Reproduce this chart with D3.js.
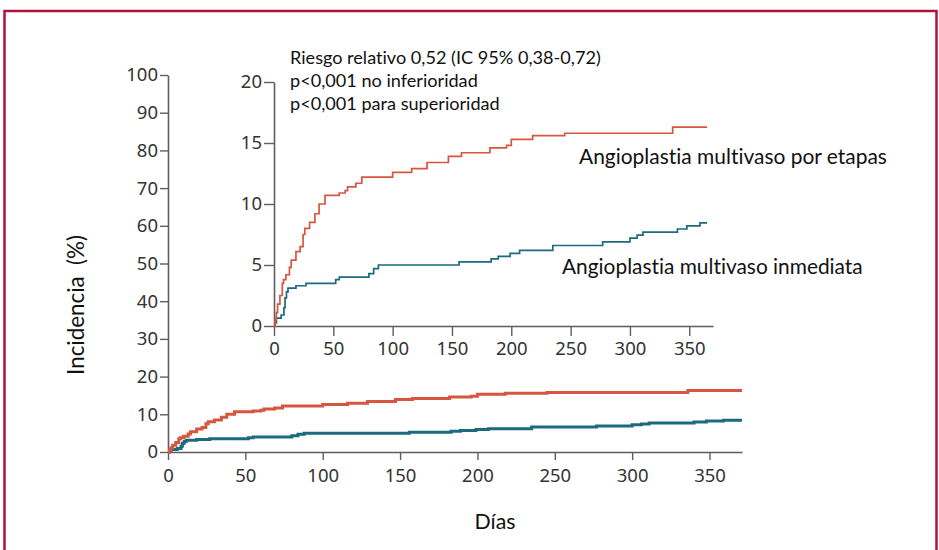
<!DOCTYPE html>
<html><head><meta charset="utf-8">
<script src="https://cdn.jsdelivr.net/npm/d3@7"></script>
<style>html,body{margin:0;padding:0;background:#fff;}svg{display:block;}text{font-variant-ligatures:none;font-feature-settings:"liga" 0,"clig" 0;}</style>
</head><body>
<svg id="c" width="939" height="550"></svg>
<script>
// ---- data ----
const redDays   = [0,1,2,3,5,7,8,10,13,14.5,18.5,22,24.5,26,30,34.5,38,43,55,60,62,69,74,100,116,129,147,158,182,196,200,218,245,336,365];
const redVals   = [0,0.5,1.1,1.8,2.5,3.5,3.8,4.2,4.8,5.4,6.1,6.5,7.5,8.0,8.5,9.2,10.0,10.7,10.9,11.1,11.4,11.7,12.2,12.6,12.9,13.4,13.9,14.2,14.6,14.8,15.3,15.6,15.8,16.3,16.3];
const blueDays  = [0,1,2,6,8.4,9.3,10.5,11.8,18.5,27,52,55,80,84,88,156,183,189,199,207,235,277,300,306,311,340,348,359,365];
const blueVals  = [0,0.25,0.65,0.9,1.5,2.3,2.8,3.1,3.3,3.5,3.8,4.0,4.3,4.7,5.0,5.25,5.5,5.7,5.95,6.2,6.6,6.9,7.2,7.45,7.7,7.95,8.2,8.45,8.45];
const xTicks     = [0,50,100,150,200,250,300,350];
const mainYTicks = [0,10,20,30,40,50,60,70,80,90,100];
const insetYTicks= [0,5,10,15,20];
const statsLines = ["Riesgo relativo 0,52 (IC 95% 0,38-0,72)","p<0,001 no inferioridad","p<0,001 para superioridad"];
const seriesLabels = ["Angioplastia multivaso por etapas","Angioplastia multivaso inmediata"];
const yTitle = "Incidencia  (%)";
const xTitle = "Días";

const RED = "#d6563f", TEAL = "#1c6a7e", AX = "#5e5e5e", TXT = "#333";
const svg = d3.select("#c");

// frame
svg.append("rect").attr("x",4.5).attr("y",11).attr("width",932).attr("height",560)
  .attr("fill","none").attr("stroke","#b3123f").attr("stroke-width",2.5);

const red  = redDays.map((d,i)=>[d,redVals[i]]);
const blue = blueDays.map((d,i)=>[d,blueVals[i]]);

function panel(opts){
  const x = d3.scaleLinear().domain([0,opts.xmax]).range([opts.x0,opts.x1]);
  const y = d3.scaleLinear().domain([0,opts.ymax]).range([opts.y0,opts.y1]);
  const g = svg.append("g");
  const xa = g.append("g").attr("transform",`translate(0,${opts.y0})`)
    .call(d3.axisBottom(x).tickValues(xTicks).tickSize(opts.tick).tickSizeOuter(0).tickPadding(opts.pad));
  const ya = g.append("g").attr("transform",`translate(${opts.x0},0)`)
    .call(d3.axisLeft(y).tickValues(opts.yTicks).tickSize(opts.tick).tickSizeOuter(0).tickPadding(2));
  [xa,ya].forEach(a=>{
    a.selectAll("path.domain").attr("stroke",AX).attr("stroke-width",1.6);
    a.selectAll(".tick line").attr("stroke",AX).attr("stroke-width",1.4);
    a.selectAll(".tick text").attr("fill",TXT).style("font-family","Noto Sans, sans-serif").style("font-size",opts.fs+"px");
  });
  const line = d3.line().x(d=>x(d[0])).y(d=>y(d[1])).curve(d3.curveStepAfter);
  [[blue,TEAL],[red,RED]].forEach(([data,col])=>{
    const pts = data.slice();
    if(opts.extend) pts.push([opts.xmax, pts[pts.length-1][1]]);
    g.append("path").datum(pts).attr("d",line).attr("fill","none").attr("stroke",col).attr("stroke-width",opts.lw);
  });
  return {x,y,g};
}

// main panel
panel({x0:168,x1:742,xmax:371,y0:452,y1:75,ymax:100,yTicks:mainYTicks,tick:8,pad:9,fs:18.5,lw:3,extend:true});
// inset panel
panel({x0:274,x1:713,xmax:370,y0:326,y1:82,ymax:20,yTicks:insetYTicks,tick:10,pad:6,fs:18.5,lw:1.7,extend:false});

function fitText(sel, w){
  const n = sel.node(); const fs = parseFloat(sel.style("font-size"));
  const len = n.getComputedTextLength(); const nf = fs*w/len;
  sel.style("font-size",nf+"px"); return nf;
}
const FONT = "Lato, sans-serif";
let sfs = 16;
statsLines.forEach((t,i)=>{
  const s = svg.append("text").attr("x",290).attr("y",64+i*23).text(t)
    .style("font-family",FONT).style("font-size",sfs+"px").attr("fill","#111");
  if(i===0) sfs = fitText(s,311);
});
const l1 = svg.append("text").attr("x",579).attr("y",164).text(seriesLabels[0]).style("font-family",FONT).style("font-size","19px").attr("fill","#111");
fitText(l1,308);
const l2 = svg.append("text").attr("x",562).attr("y",274).text(seriesLabels[1]).style("font-family",FONT).style("font-size","19px").attr("fill","#111");
fitText(l2,301);
const yt = svg.append("text").attr("transform","translate(84,305) rotate(-90)").attr("text-anchor","middle")
  .style("white-space","pre").attr("xml:space","preserve").text(yTitle)
  .style("font-family",FONT).style("font-size","17px").attr("fill","#111");
fitText(yt,140);
const xt = svg.append("text").attr("x",495).attr("y",529).attr("text-anchor","middle").text(xTitle)
  .style("font-family",FONT).style("font-size","18px").attr("fill","#111");
fitText(xt,41);
</script>
</body></html>
